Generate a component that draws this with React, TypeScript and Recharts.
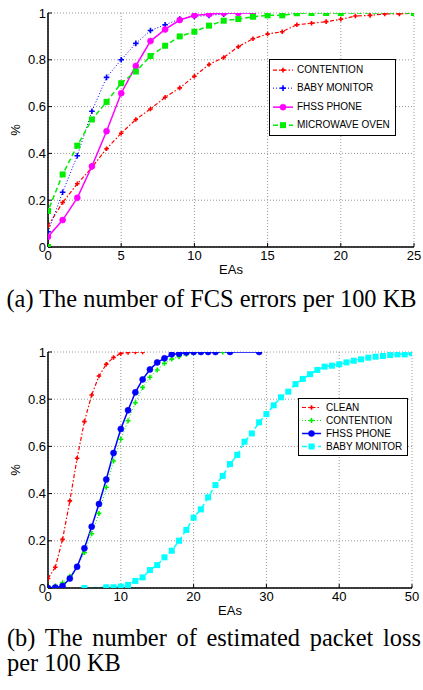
import { LineChart, Line, XAxis, YAxis, CartesianGrid, Legend } from "recharts";

const FONT = '"Liberation Sans", Arial, Helvetica, sans-serif';
const SERIF = '"Liberation Serif", "Times New Roman", serif';

const cdfTicksY = [0, 0.2, 0.4, 0.6, 0.8, 1];

// (a) FCS errors per 100 KB
const fcsTicksX = [0, 5, 10, 15, 20, 25];
const fcsContentionX = [0, 1, 2, 3, 4, 5, 6, 7, 8, 9, 10, 11, 12, 13, 14, 15, 16, 17, 18, 19, 20, 21, 22, 23, 24, 25];
const fcsContention = [0.09, 0.19, 0.27, 0.34, 0.42, 0.486, 0.545, 0.59, 0.64, 0.68, 0.73, 0.78, 0.81, 0.856, 0.89, 0.91, 0.92, 0.95, 0.956, 0.963, 0.973, 0.987, 0.99, 0.996, 0.996, 1.0];
const fcsBabyX = [0, 1, 2, 3, 4, 5, 6, 7, 8, 9, 10, 11, 12, 13, 14];
const fcsBaby = [0.065, 0.234, 0.39, 0.58, 0.725, 0.8, 0.87, 0.925, 0.95, 0.974, 0.985, 0.99, 0.995, 1.0, 1.0];
const fcsFhssX = [0, 0, 1, 2, 3, 4, 5, 6, 7, 8, 9, 10, 11, 12, 13, 14];
const fcsFhss = [0, 0.044, 0.115, 0.21, 0.345, 0.495, 0.657, 0.774, 0.88, 0.93, 0.97, 0.99, 0.995, 1.0, 1.0, 1.0];
const fcsMicroX = [0, 0, 1, 2, 3, 4, 5, 6, 7, 8, 9, 10, 11, 12, 13, 14, 15, 16, 17, 18, 19, 20, 25];
const fcsMicro = [0, 0.154, 0.31, 0.433, 0.545, 0.62, 0.7, 0.75, 0.816, 0.86, 0.9, 0.92, 0.946, 0.967, 0.974, 0.984, 0.99, 0.99, 0.999, 1, 1, 1, 1];

// (b) estimated packet loss per 100 KB
const lossTicksX = [0, 10, 20, 30, 40, 50];
const lossCleanX = [0, 1, 2, 3, 4, 5, 6, 7, 8, 9, 10, 11, 12, 13];
const lossClean = [0.04, 0.088, 0.206, 0.369, 0.55, 0.705, 0.818, 0.898, 0.948, 0.977, 0.994, 0.998, 1, 1];
const lossContentionX = [0, 1, 2, 3, 4, 5, 6, 7, 8, 9, 10, 11, 12, 13, 14, 15, 16, 17, 18, 19, 20, 21, 22, 23, 24];
const lossContention = [0, 0.008, 0.022, 0.05, 0.09, 0.15, 0.23, 0.316, 0.427, 0.538, 0.63, 0.709, 0.785, 0.85, 0.893, 0.924, 0.952, 0.97, 0.98, 0.99, 0.997, 1, 1, 1, 1];
const lossFhssX = [0, 1, 2, 3, 4, 5, 6, 7, 8, 9, 10, 11, 12, 13, 14, 15, 16, 17, 18, 19, 20, 21, 22, 23, 25, 29];
const lossFhss = [0, 0.002, 0.008, 0.04, 0.09, 0.168, 0.26, 0.356, 0.46, 0.572, 0.674, 0.753, 0.829, 0.884, 0.926, 0.956, 0.973, 0.99, 0.993, 0.998, 1, 1, 1, 1, 1, 1];
const lossBabyX = [5, 8, 9, 10, 11, 12, 13, 14, 15, 16, 17, 18, 19, 20, 21, 22, 23, 24, 25, 26, 27, 28, 29, 30, 31, 32, 33, 34, 35, 36, 37, 38, 39, 40, 41, 42, 43, 44, 45, 46, 47, 48, 49, 50];
const lossBaby = [0, 0.003, 0.003, 0.006, 0.013, 0.03, 0.045, 0.076, 0.097, 0.13, 0.158, 0.2, 0.246, 0.298, 0.333, 0.384, 0.436, 0.475, 0.525, 0.564, 0.62, 0.655, 0.702, 0.737, 0.774, 0.808, 0.832, 0.864, 0.886, 0.906, 0.924, 0.938, 0.942, 0.948, 0.956, 0.963, 0.969, 0.976, 0.98, 0.983, 0.987, 0.99, 0.99, 0.995];

const pts = (xs: number[], ys: number[]) => xs.map((x, i) => ({ x, y: ys[i] }));

type MarkerKind = "plus" | "circle" | "square";
type Series = {
  name: string;
  data: { x: number; y: number }[];
  color: string;
  dash?: string;
  width: number;
  marker: MarkerKind;
  size: number;
};

const fcsSeries: Series[] = [
  { name: "CONTENTION", data: pts(fcsContentionX, fcsContention), color: "#ff0000", dash: "4 2 1.5 2", width: 1.2, marker: "plus", size: 2.3 },
  { name: "BABY MONITOR", data: pts(fcsBabyX, fcsBaby), color: "#0000ff", dash: "1 2", width: 1, marker: "plus", size: 2.8 },
  { name: "FHSS PHONE", data: pts(fcsFhssX, fcsFhss), color: "#ff00ff", width: 1.5, marker: "circle", size: 3 },
  { name: "MICROWAVE OVEN", data: pts(fcsMicroX, fcsMicro), color: "#00ee00", dash: "5 3", width: 1.5, marker: "square", size: 3 },
];

const lossSeries: Series[] = [
  { name: "CLEAN", data: pts(lossCleanX, lossClean), color: "#ff0000", dash: "4 2 1.5 2", width: 1.2, marker: "plus", size: 2.3 },
  { name: "CONTENTION", data: pts(lossContentionX, lossContention), color: "#00ee00", dash: "1 2", width: 1, marker: "plus", size: 2.5 },
  { name: "FHSS PHONE", data: pts(lossFhssX, lossFhss), color: "#0000ff", width: 1.5, marker: "circle", size: 3 },
  { name: "BABY MONITOR", data: pts(lossBabyX, lossBaby), color: "#00ffff", dash: "5 3", width: 1.5, marker: "square", size: 3 },
];

function Marker(props: any) {
  const { kind, cx, cy, color, size } = props;
  if (cx == null || cy == null) return null;
  if (kind === "circle") return <circle cx={cx} cy={cy} r={size} fill={color} stroke={color} strokeWidth={0.6} />;
  if (kind === "square")
    return <rect x={cx - size} y={cy - size} width={size * 2} height={size * 2} fill={color} />;
  return (
    <path
      d={`M${cx - size} ${cy}H${cx + size}M${cx} ${cy - size}V${cy + size}`}
      stroke={color}
      strokeWidth={1.6}
      fill="none"
    />
  );
}

function LegendBox({ series, rowH, sampleW, gap, pad }: any) {
  return (
    <div
      style={{
        boxSizing: "border-box",
        border: "1px solid #000",
        background: "#fff",
        padding: `${pad[0]}px 4px ${pad[1]}px ${pad[2]}px`,
        fontFamily: FONT,
        fontSize: 10,
        color: "#000",
      }}
    >
      {series.map((s: Series) => (
        <div key={s.name} style={{ display: "flex", alignItems: "center", height: rowH }}>
          <svg width={sampleW} height={rowH} style={{ display: "block", flex: "none" }}>
            <line
              x1={0}
              x2={sampleW}
              y1={rowH / 2}
              y2={rowH / 2}
              stroke={s.color}
              strokeWidth={s.width}
              strokeDasharray={s.dash}
            />
            <Marker kind={s.marker} cx={sampleW / 2} cy={rowH / 2} color={s.color} size={s.size} />
          </svg>
          <span style={{ marginLeft: gap, whiteSpace: "nowrap", lineHeight: `${rowH}px` }}>{s.name}</span>
        </div>
      ))}
    </div>
  );
}

const tickStyle = { fill: "#000", fontSize: 13, fontFamily: FONT };
const axisLineStyle = { stroke: "#000", strokeWidth: 1.5 };
const tickLineStyle = { stroke: "#000", strokeWidth: 1 };

const YTitle = (props: any) => {
  const { x, y, height } = props.viewBox;
  const cx = x + 15;
  const cy = y + height / 2;
  return (
    <text
      x={cx}
      y={cy}
      transform={`rotate(-90 ${cx} ${cy})`}
      textAnchor="middle"
      dominantBaseline="central"
      fill="#000"
      fontSize={13}
      fontFamily={FONT}
    >
      %
    </text>
  );
};

function CdfPanel({ top, xMax, xTicks, series, marginRight, axisH, legend }: any) {
  return (
    <div style={{ position: "absolute", left: 0, top }}>
      <LineChart width={423} height={285} margin={{ top: 13, right: marginRight, bottom: 0, left: 0 }}>
        <CartesianGrid stroke="#999" strokeDasharray="1 2" />
        <XAxis
          dataKey="x"
          type="number"
          domain={[0, xMax]}
          ticks={xTicks}
          interval={0}
          height={axisH}
          tickSize={-4}
          tickMargin={8}
          tick={tickStyle}
          axisLine={axisLineStyle}
          tickLine={tickLineStyle}
          allowDataOverflow
          label={{ value: "EAs", position: "insideBottom", offset: axisH - 27, fill: "#000", fontSize: 13, fontFamily: FONT }}
        />
        <XAxis
          xAxisId="top"
          orientation="top"
          type="number"
          domain={[0, xMax]}
          ticks={xTicks}
          interval={0}
          height={0}
          tickSize={-4}
          tick={false}
          axisLine={axisLineStyle}
          tickLine={tickLineStyle}
          allowDataOverflow
        />
        <YAxis
          type="number"
          domain={[0, 1]}
          ticks={cdfTicksY}
          interval={0}
          width={48}
          tickSize={-4}
          tickMargin={6}
          tick={tickStyle}
          axisLine={axisLineStyle}
          tickLine={tickLineStyle}
          allowDataOverflow
          label={YTitle}
        />
        <YAxis
          yAxisId="right"
          orientation="right"
          type="number"
          domain={[0, 1]}
          ticks={cdfTicksY}
          interval={0}
          width={0}
          tickSize={-4}
          tick={false}
          axisLine={axisLineStyle}
          tickLine={tickLineStyle}
          allowDataOverflow
        />
        {series.map((s: Series) => (
          <Line
            key={s.name}
            data={s.data}
            dataKey="y"
            name={s.name}
            type="linear"
            stroke={s.color}
            strokeWidth={s.width}
            strokeDasharray={s.dash}
            dot={<Marker kind={s.marker} color={s.color} size={s.size} />}
            activeDot={false}
            isAnimationActive={false}
          />
        ))}
        <Legend
          layout="horizontal"
          verticalAlign="middle"
          content={() => <LegendBox series={series} {...legend.box} />}
          wrapperStyle={{ left: legend.left, top: legend.top, width: legend.width, height: "auto" }}
        />
      </LineChart>
    </div>
  );
}

export default function App() {
  return (
    <div style={{ position: "absolute", left: 0, top: 0, width: 423, height: 690, background: "#fff" }}>
      <CdfPanel
        top={0}
        xMax={25}
        xTicks={fcsTicksX}
        series={fcsSeries}
        marginRight={9}
        axisH={38}
        legend={{ left: 269, top: 59, width: 127, box: { rowH: 18.3, sampleW: 20, gap: 4, pad: [1, 1, 3] } }}
      />
      <div
        style={{
          position: "absolute",
          left: 0,
          top: 286.5,
          width: 423,
          textAlign: "center",
          whiteSpace: "nowrap",
          fontFamily: SERIF,
          fontSize: 24.4,
          lineHeight: "24px",
          color: "#000",
        }}
      >
        (a) The number of FCS errors per 100 KB
      </div>
      <CdfPanel
        top={339}
        xMax={50}
        xTicks={lossTicksX}
        series={lossSeries}
        marginRight={11}
        axisH={36}
        legend={{ left: 298, top: 59, width: 110, box: { rowH: 13, sampleW: 19, gap: 5, pad: [2, 2, 3] } }}
      />
      <div
        style={{
          position: "absolute",
          left: 7,
          top: 625,
          width: 414,
          textAlign: "justify",
          fontFamily: SERIF,
          fontSize: 24.4,
          lineHeight: "25px",
          color: "#000",
        }}
      >
        (b) The number of estimated packet loss per 100 KB
      </div>
    </div>
  );
}
